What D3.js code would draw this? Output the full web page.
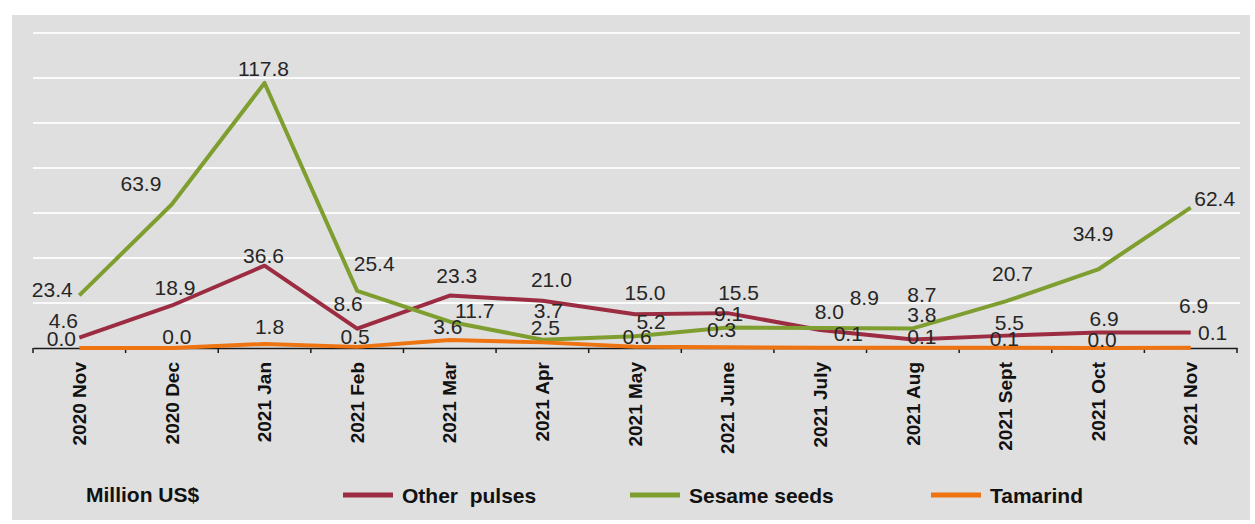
<!DOCTYPE html>
<html lang="en">
<head>
  <meta charset="UTF-8">
  <title>Million US$ - Other pulses, Sesame seeds, Tamarind</title>
  <script src="https://d3js.org/d3.v7.min.js"></script>
  <style>
    body {
      margin: 0;
      background: #fff;
      font-family: "Liberation Sans", Arial, sans-serif;
    }
    .value-label {
      font-size: 21px;
      fill: #262626;
      text-anchor: middle;
    }
    .tick-label {
      font-size: 19px;
      font-weight: bold;
      fill: #111;
    }
    .legend-text {
      font-size: 21px;
      font-weight: bold;
      fill: #111;
    }
  </style>
</head>
<body>
  <svg id="chart" width="1255" height="524"></svg>

  <script>
    // data
    const months = ["2020 Nov", "2020 Dec", "2021 Jan", "2021 Feb", "2021 Mar", "2021 Apr",
                    "2021 May", "2021 June", "2021 July", "2021 Aug", "2021 Sept", "2021 Oct", "2021 Nov"];
    const otherPulses = [4.6, 18.9, 36.6, 8.6, 23.3, 21.0, 15.0, 15.5, 8.0, 3.8, 5.5, 6.9, 6.9];
    const sesameSeeds = [23.4, 63.9, 117.8, 25.4, 11.7, 3.7, 5.2, 9.1, 8.9, 8.7, 20.7, 34.9, 62.4];
    const tamarind = [0.0, 0.0, 1.8, 0.5, 3.6, 2.5, 0.6, 0.3, 0.1, 0.1, 0.1, 0.0, 0.1];
    const yTicks = [0, 20, 40, 60, 80, 100, 120, 140];

    // hand placed data label offsets (dx, dy from the point), as in the original
    const pulsesLabelOffsets = [[-16, -17], [3, -18], [-1, -10], [-9, -25], [7, -20], [9, -21],
                                [10, -22], [11, -21], [9, -19], [9, -25], [4, -13], [6, -14], [3, -27]];
    const sesameLabelOffsets = [[-27, -6], [-31, -21], [-1, -15], [17, -27], [25, -11], [6, -29],
                                [16, -15], [1, -14], [44, -31], [9, -34], [7, -28], [-5, -36], [24, -9]];
    const tamarindLabelOffsets = [[-18, -10], [5, -12], [5, -18], [-2, -10], [-2, -13], [3, -15],
                                  [2, -10], [-6, -18], [28, -14], [9, -11], [-1, -9], [4, -9], [22, -15]];

    const series = [
      {name: "Other  pulses", values: otherPulses, color: "#9c2c42", offsets: pulsesLabelOffsets},
      {name: "Sesame seeds", values: sesameSeeds, color: "#7f9e30", offsets: sesameLabelOffsets},
      {name: "Tamarind", values: tamarind, color: "#ee7311", offsets: tamarindLabelOffsets}
    ];

    const svg = d3.select("#chart");

    const x = d3.scaleBand()
      .domain(months)
      .range([33, 1237]);

    const y = d3.scaleLinear()
      .domain([0, 140])
      .range([348, 33]);

    const cx = m => x(m) + x.bandwidth() / 2;

    // grey panel
    svg.append("rect")
      .attr("x", 12)
      .attr("y", 15)
      .attr("width", 1238)
      .attr("height", 505)
      .attr("fill", "#dfdfdf");

    // gridlines
    svg.append("g")
      .selectAll("line")
      .data(yTicks.filter(t => t > 0))
      .join("line")
      .attr("x1", 33)
      .attr("x2", 1240)
      .attr("y1", d => y(d))
      .attr("y2", d => y(d))
      .attr("stroke", "#fbfbfb")
      .attr("stroke-width", 2);

    // x axis: labels in the middle of each band, ticks on the band edges
    const axis = svg.append("g")
      .attr("transform", `translate(0,${y(0)})`)
      .call(d3.axisBottom(x).tickSize(0).tickPadding(0));

    axis.select(".domain")
      .attr("stroke", "#1a1a1a")
      .attr("stroke-width", 1.5);

    axis.selectAll(".tick text")
      .attr("class", "tick-label")
      .attr("transform", "rotate(-90)")
      .attr("text-anchor", "end")
      .attr("x", -14)
      .attr("y", 0)
      .attr("dy", "0.35em")
      .style("font-family", null)
      .style("font-size", null);
    axis.attr("font-family", null).attr("font-size", null);

    const edges = months.map(m => x(m)).concat([x.range()[1]]);
    axis.append("g")
      .selectAll("line")
      .data(edges)
      .join("line")
      .attr("x1", d => d)
      .attr("x2", d => d)
      .attr("y1", 0)
      .attr("y2", 5)
      .attr("stroke", "#1a1a1a")
      .attr("stroke-width", 1.5);

    // lines
    const line = d3.line()
      .x((d, i) => cx(months[i]))
      .y(d => y(d));

    svg.append("g")
      .selectAll("path")
      .data(series)
      .join("path")
      .attr("d", d => line(d.values))
      .attr("fill", "none")
      .attr("stroke", d => d.color)
      .attr("stroke-width", 4)
      .attr("stroke-linejoin", "round");

    // data labels
    series.forEach(s => {
      svg.append("g")
        .selectAll("text")
        .data(s.values)
        .join("text")
        .attr("class", "value-label")
        .attr("x", (d, i) => cx(months[i]) + s.offsets[i][0])
        .attr("y", (d, i) => y(d) + s.offsets[i][1])
        .attr("dy", "0.36em")
        .text(d => d3.format(".1f")(d));
    });

    // legend
    const legend = svg.append("g");
    legend.append("text")
      .attr("class", "legend-text")
      .attr("x", 86)
      .attr("y", 494)
      .attr("dy", "0.36em")
      .text("Million US$");

    const legendX = [343, 630, 931];
    const items = legend.selectAll(".item")
      .data(series)
      .join("g")
      .attr("class", "item")
      .attr("transform", (d, i) => `translate(${legendX[i]},495)`);

    items.append("line")
      .attr("x1", 0)
      .attr("x2", 50)
      .attr("stroke", d => d.color)
      .attr("stroke-width", 5);

    items.append("text")
      .attr("class", "legend-text")
      .attr("x", 59)
      .attr("dy", "0.36em")
      .attr("xml:space", "preserve")
      .style("white-space", "pre")
      .text(d => d.name);
  </script>
</body>
</html>
